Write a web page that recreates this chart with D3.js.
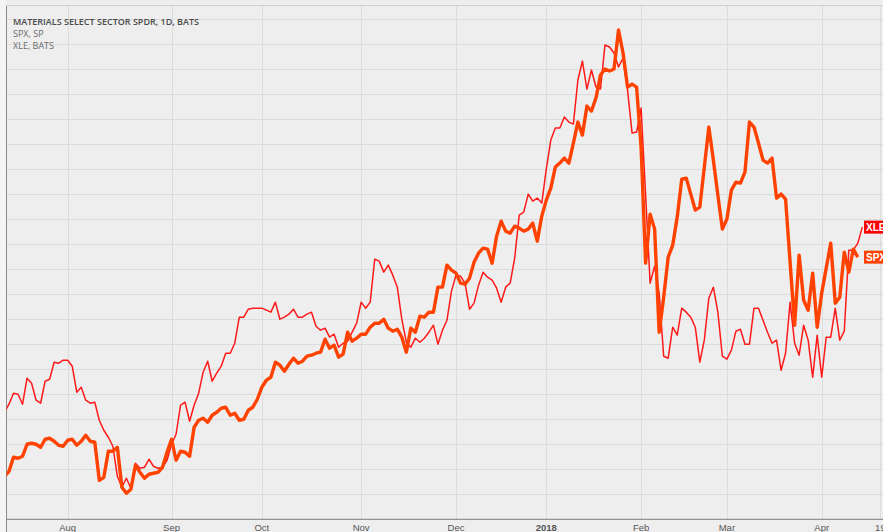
<!DOCTYPE html>
<html>
<head>
<meta charset="utf-8">
<script src="https://cdn.jsdelivr.net/npm/d3@7/dist/d3.min.js"></script>
<style>
  html, body { margin: 0; padding: 0; background: #f4f4f4; }
  svg { display: block; }
</style>
</head>
<body>
<svg id="chart" width="883" height="532"></svg>
<script>
//
// D A T A
//
// trading calendar: first bar, last bar on the axis, and the market holidays in between
var firstDay  = "2017-07-12",
    lastDay   = "2018-04-19",
    holidays  = ["2017-09-04", "2017-11-23", "2017-12-25", "2018-01-01", "2018-01-15", "2018-02-19", "2018-03-30"];

// x axis labels
var tickDates  = ["2017-08-01", "2017-09-01", "2017-10-02", "2017-11-01", "2017-12-01", "2018-01-02", "2018-02-01", "2018-03-01", "2018-04-02", "2018-04-19"],
    tickLabels = ["Aug", "Sep", "Oct", "Nov", "Dec", "2018", "Feb", "Mar", "Apr", "19"];

// percent change, one value per trading day (Jul 12 2017 -> Apr 13 2018)
var spx = [
  -0.28, -0.08, 0.48, 0.44, 0.52, 1.00, 1.04, 1.00, 0.88, 1.20, 1.24, 1.12, 0.96, 0.92,
  1.16, 1.20, 0.96, 1.12, 1.36, 1.12, 1.08, -0.44, -0.32, 0.72, 0.72, 0.88, -0.72, -0.96,
  -0.80, 0.16, -0.12, -0.36, -0.20, -0.16, -0.12, 0.08, 0.68,
  1.20, 0.36, 0.72, 0.68, 0.52, 1.68, 1.96, 2.04, 1.88, 2.16, 2.28, 2.44, 2.48, 2.16, 2.24,
  1.96, 2.00, 2.36, 2.48, 2.80,
  3.28, 3.56, 3.68, 4.28, 4.16, 3.92, 4.20, 4.44, 4.24, 4.32, 4.52, 4.56, 4.64, 4.68, 5.20,
  4.84, 4.96, 4.48, 4.60, 5.48, 5.12, 5.24,
  5.40, 5.40, 5.68, 5.84, 5.84, 6.00, 5.64, 5.52, 5.60, 5.28, 4.68, 5.64, 5.48, 6.12, 6.08,
  6.28, 6.28, 7.28, 7.28, 8.16, 7.96,
  7.84, 7.44, 7.40, 7.64, 8.28, 8.64, 8.84, 8.80, 8.24, 9.32, 9.92, 9.52, 9.44, 9.72, 9.64,
  9.52, 9.60, 9.84, 9.12, 10.12,
  10.76, 11.24, 12.08, 12.24, 12.44, 12.24, 13.04, 13.88, 13.36, 14.52, 14.32, 14.84, 15.76,
  16.00, 15.92, 16.00, 17.56, 16.64, 15.28, 15.40, 15.28,
  12.88, 8.24, 10.20, 9.60, 5.48, 6.88, 8.48, 8.96, 10.08, 11.60, 11.64, 11.00, 10.36, 10.48,
  12.08, 13.68, 12.36, 10.96,
  9.60, 10.00, 11.16, 11.48, 11.44, 11.88, 13.88, 13.68, 13.04, 12.36, 12.24, 12.44, 10.84,
  11.00, 10.80, 8.28, 5.76, 8.56, 6.76, 6.36, 7.84, 5.68,
  7.04, 8.04, 9.04, 6.64, 6.88, 8.68, 7.88, 8.80, 8.48
];

var xle = [
  2.28, 2.60, 3.04, 3.00, 2.60, 3.64, 3.44, 2.76, 2.64, 3.52, 3.60, 4.28, 4.24, 4.36,
  4.36, 4.12, 3.08, 3.28, 2.76, 2.64, 2.68, 1.96, 1.56, 1.28, 0.92, -0.28, -0.72, -0.36,
  -0.76, 0.24, 0.04, 0.08, 0.40, 0.12, 0.04, 0.08, 0.36,
  1.00, 1.40, 2.56, 2.68, 1.92, 2.56, 3.04, 3.88, 4.32, 3.52, 3.84, 4.12, 4.64, 4.64, 5.04,
  6.08, 6.08, 6.40, 6.44, 6.44,
  6.44, 6.36, 6.28, 6.68, 6.00, 6.08, 6.20, 6.40, 6.08, 6.08, 6.20, 6.28, 5.72, 5.56, 5.64,
  5.28, 5.40, 4.88, 5.04, 5.12, 5.48, 5.84,
  6.68, 6.44, 6.68, 8.40, 8.32, 7.88, 8.16, 7.76, 7.28, 6.00, 5.08, 4.88, 5.24, 5.08, 5.24,
  5.48, 5.76, 5.00, 5.56, 5.96, 7.12,
  7.76, 7.72, 7.44, 6.40, 6.64, 7.36, 7.88, 7.68, 7.56, 7.24, 6.68, 7.28, 7.44, 8.44, 10.16,
  10.28, 11.00, 10.72, 10.84, 10.64,
  12.00, 13.16, 13.64, 13.64, 14.08, 13.88, 13.80, 15.56, 16.32, 15.20, 15.96, 15.28, 15.20,
  16.96, 16.88, 16.64, 16.08, 16.44, 15.16, 13.44, 13.48,
  14.44, 10.96, 7.44, 8.12, 7.04, 4.52, 4.44, 5.68, 5.36, 6.44, 6.28, 6.08, 5.68, 4.28, 5.16,
  6.84, 7.28, 6.28, 4.52,
  4.40, 4.76, 5.52, 5.60, 5.00, 5.00, 6.44, 6.44, 5.96, 5.48, 5.04, 5.16, 3.96, 4.64, 6.68,
  5.04, 4.56, 5.76, 5.16, 3.68, 5.36, 3.68,
  5.28, 5.28, 6.44, 5.16, 5.52, 8.76, 8.76, 9.04, 9.68
];

var titleLines = ["MATERIALS SELECT SECTOR SPDR, 1D, BATS", "SPX, SP", "XLE, BATS"];

//
// T R A D I N G   D A Y S
//
var parse = d3.timeParse("%Y-%m-%d"),
    fmt   = d3.timeFormat("%Y-%m-%d");

var days = d3.timeDay.range(parse(firstDay), d3.timeDay.offset(parse(lastDay), 1))
  .filter(function(d){
    var wd = d.getDay();
    return wd !== 0 && wd !== 6 && holidays.indexOf(fmt(d)) < 0;
  })
  .map(fmt);

//
// L A Y O U T
//
var W = 883, H = 532,
    plot = { left: 6.5, top: 6, right: 883, bottom: 519.3 };

var svg = d3.select("#chart");

// bar index -> pixel, ~4.5 px a bar
var x = d3.scaleLinear()
  .domain([days.indexOf("2017-08-01"), days.indexOf("2018-04-02")])
  .range([67.7, 821.7]);

var y = d3.scaleLinear()
  .domain([-2, 18.52])
  .range([plot.bottom, plot.top]);

// background
svg.append("rect")
  .attr("x", plot.left).attr("y", 0)
  .attr("width", W - plot.left).attr("height", H)
  .attr("fill", "#eeeeee");

svg.append("defs").append("clipPath").attr("id", "clip")
  .append("rect")
    .attr("x", plot.left).attr("y", plot.top)
    .attr("width", plot.right - plot.left).attr("height", plot.bottom - plot.top);

//
// G R I D
//
var grid = svg.append("g").attr("class", "grid");

grid.selectAll("line.h")
  .data(d3.range(-1, 19))
  .enter().append("line")
    .attr("class", "h")
    .attr("x1", plot.left).attr("x2", plot.right)
    .attr("y1", function(d){ return Math.round(y(d)) + 0.5; })
    .attr("y2", function(d){ return Math.round(y(d)) + 0.5; })
    .attr("stroke", "#dcdcdc");

grid.selectAll("line.v")
  .data(tickDates)
  .enter().append("line")
    .attr("class", "v")
    .attr("x1", function(d){ return Math.round(x(days.indexOf(d))) + 0.5; })
    .attr("x2", function(d){ return Math.round(x(days.indexOf(d))) + 0.5; })
    .attr("y1", plot.top).attr("y2", plot.bottom)
    .attr("stroke", "#dcdcdc");

// frame
svg.append("line")
  .attr("x1", plot.left).attr("x2", plot.right)
  .attr("y1", plot.top - 0.5).attr("y2", plot.top - 0.5)
  .attr("stroke", "#d0d0d0");
svg.append("line")
  .attr("x1", plot.left).attr("x2", plot.left)
  .attr("y1", plot.top).attr("y2", H)
  .attr("stroke", "#8a8a8a");
svg.append("line")
  .attr("x1", plot.left).attr("x2", plot.right)
  .attr("y1", plot.bottom).attr("y2", plot.bottom)
  .attr("stroke", "#7a7a7a");

//
// X   A X I S   L A B E L S
//
svg.append("g").selectAll("text")
  .data(tickDates)
  .enter().append("text")
    .attr("x", function(d){ return x(days.indexOf(d)); })
    .attr("y", 530.5)
    .attr("text-anchor", "middle")
    .attr("font-family", "Liberation Sans, Arial, sans-serif")
    .attr("font-size", "9.5px")
    .attr("font-weight", function(d, i){ return tickLabels[i] === "2018" ? "bold" : "normal"; })
    .attr("fill", "#555")
    .text(function(d, i){ return tickLabels[i]; });

//
// S E R I E S
//
var line = d3.line()
  .x(function(d, i){ return x(i); })
  .y(function(d){ return y(d); });

var lines = svg.append("g").attr("clip-path", "url(#clip)");

lines.append("path")
  .datum(xle)
  .attr("d", line)
  .attr("fill", "none")
  .attr("stroke", "#ff1a1a")
  .attr("stroke-width", 1.5)
  .attr("stroke-linejoin", "round");

lines.append("path")
  .datum(spx)
  .attr("d", line)
  .attr("fill", "none")
  .attr("stroke", "#ff4200")
  .attr("stroke-width", 3.4)
  .attr("stroke-linejoin", "round");

//
// L A S T   V A L U E   T A G S
//
var tags = [
  { name: "XLE", value: xle[xle.length - 1], color: "#ff0000" },
  { name: "SPX", value: spx[spx.length - 1], color: "#ff4200" }
];

var tag = svg.append("g").selectAll("g")
  .data(tags)
  .enter().append("g")
    .attr("transform", function(d){ return "translate(864," + y(d.value) + ")"; });

tag.append("rect")
  .attr("x", 0).attr("y", -6.5)
  .attr("width", 22).attr("height", 13)
  .attr("fill", function(d){ return d.color; });

tag.append("text")
  .attr("x", 2).attr("y", 3.5)
  .attr("font-family", "Liberation Sans, Arial, sans-serif")
  .attr("font-size", "10px")
  .attr("font-weight", "bold")
  .attr("fill", "#fff")
  .text(function(d){ return d.name; });

//
// T I T L E
//
svg.append("g").selectAll("text")
  .data(titleLines)
  .enter().append("text")
    .attr("x", 13)
    .attr("y", function(d, i){ return 24.5 + i * 12.2; })
    .attr("font-family", "Open Sans, sans-serif")
    .attr("font-size", "9px")
    .attr("font-weight", function(d, i){ return i === 0 ? 600 : 400; })
    .attr("fill", function(d, i){ return i === 0 ? "#4a4a4a" : "#6a6a6a"; })
    .text(function(d){ return d; });
</script>
</body>
</html>
